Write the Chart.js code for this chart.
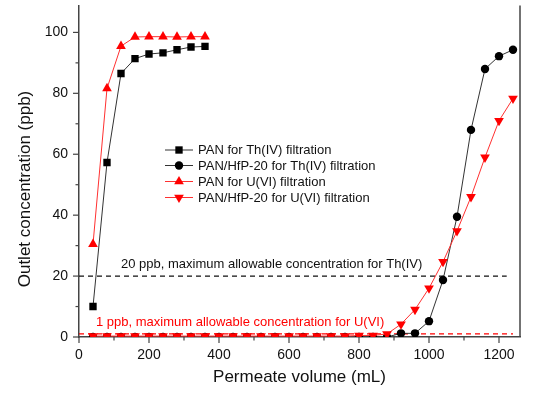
<!DOCTYPE html>
<html>
<head>
<meta charset="utf-8">
<script src="https://cdn.jsdelivr.net/npm/chart.js@4.4.0/dist/chart.umd.min.js"></script>
<style>
    html, body { margin: 0; padding: 0; background: #fff; }
    #wrap { width: 554px; height: 394px; position: relative; }
</style>
</head>
<body>
<div id="wrap"><canvas id="breakthrough"></canvas></div>
<script>
// Volumes (mL) and outlet concentrations (ppb)
const panVolume = [40, 80, 120, 160, 200, 240, 280, 320, 360];
const panTh = [10, 57.3, 86.5, 91.4, 92.9, 93.3, 94.3, 95.2, 95.4];
const panU = [30.5, 81.6, 95.5, 98.5, 98.6, 98.6, 98.5, 98.6, 98.6];

const hfpVolume = [40, 80, 120, 160, 200, 240, 280, 320, 360, 400, 440, 480, 520, 560, 600, 640,
    680, 720, 760, 800, 840, 880, 920, 960, 1000, 1040, 1080, 1120, 1160, 1200, 1240];
const hfpTh = [0, 0, 0, 0, 0, 0, 0, 0, 0, 0, 0, 0, 0, 0, 0, 0,
    0, 0, 0, 0, 0, 0, 1.2, 1.2, 5.2, 18.7, 39.5, 68, 88, 92.2, 94.3];
const hfpU = [0.3, 0.3, 0.3, 0.3, 0.3, 0.3, 0.3, 0.3, 0.3, 0.3, 0.3, 0.3, 0.3, 0.3, 0.3, 0.3,
    0.3, 0.3, 0.3, 0.5, 0.5, 1, 4.2, 9, 16, 24.7, 34.8, 46, 59, 71, 78.3];

// Regulatory limits (ppb) and the volume range their dashed lines span
const thLimit = 20;
const uLimit = 1;
const thLimitRange = [0, 1222];
const uLimitRange = [0, 1240];

const yTicks = [0, 20, 40, 60, 80, 100];
const xTicks = [0, 200, 400, 600, 800, 1000, 1200];

const FONT = "'Liberation Sans', Arial, sans-serif";
const RED = '#ff0000';
const BLACK = '#000000';

const seriesStyles = [
    { label: 'PAN for Th(IV) filtration', color: BLACK, line: '#333333', pointStyle: 'rect', radius: 5.2, rotation: 0 },
    { label: 'PAN/HfP-20 for Th(IV) filtration', color: BLACK, line: '#333333', pointStyle: 'circle', radius: 4.2, rotation: 0 },
    { label: 'PAN for U(VI) filtration', color: RED, line: '#ff3030', pointStyle: 'triangle', radius: 5.6, rotation: 0 },
    { label: 'PAN/HfP-20 for U(VI) filtration', color: RED, line: '#ff3030', pointStyle: 'triangle', radius: 5.6, rotation: 180 }
];

function toPoints(xs, ys) {
    return xs.map((x, i) => ({ x: x, y: ys[i] }));
}

function makeSeries(style, points, order) {
    return {
        label: style.label,
        data: points,
        borderColor: style.line,
        borderWidth: 1,
        backgroundColor: style.color,
        pointBackgroundColor: style.color,
        pointBorderColor: style.color,
        pointBorderWidth: 0,
        pointStyle: style.pointStyle,
        pointRadius: style.radius,
        pointRotation: style.rotation,
        tension: 0,
        order: order
    };
}

function limitLine(range, value, color) {
    return {
        label: '',
        data: [{ x: range[0], y: value }, { x: range[1], y: value }],
        borderColor: color,
        borderWidth: 1.2,
        borderDash: [5, 4],
        pointRadius: 0,
        order: 10
    };
}

// Ticks, right frame, y title, limit labels and the legend box
const decorations = {
    id: 'decorations',
    afterDraw(chart) {
        const ctx = chart.ctx;
        const area = chart.chartArea;
        const xs = chart.scales.x;
        const ys = chart.scales.y;
        ctx.save();

        // right frame line
        ctx.strokeStyle = '#444';
        ctx.lineWidth = 1.5;
        ctx.beginPath();
        ctx.moveTo(area.right, area.top);
        ctx.lineTo(area.right, area.bottom);
        ctx.stroke();

        // outward major / minor ticks
        ctx.lineWidth = 1.2;
        for (let v = 0; v <= 100; v += 10) {
            const py = ys.getPixelForValue(v);
            const len = v % 20 === 0 ? 6 : 3.5;
            ctx.beginPath();
            ctx.moveTo(area.left, py);
            ctx.lineTo(area.left - len, py);
            ctx.stroke();
        }
        for (let v = 0; v <= 1200; v += 100) {
            const px = xs.getPixelForValue(v);
            const len = v % 200 === 0 ? 6 : 3.5;
            ctx.beginPath();
            ctx.moveTo(px, area.bottom);
            ctx.lineTo(px, area.bottom + len);
            ctx.stroke();
        }

        // y axis title (the original frame runs above the crop, so it sits lower)
        ctx.save();
        ctx.translate(25, 189);
        ctx.rotate(-Math.PI / 2);
        ctx.font = '17px ' + FONT;
        ctx.fillStyle = '#111';
        ctx.textAlign = 'center';
        ctx.textBaseline = 'middle';
        ctx.fillText('Outlet concentration (ppb)', 0, 0);
        ctx.restore();

        // limit annotations
        ctx.font = '13px ' + FONT;
        ctx.textBaseline = 'middle';
        ctx.textAlign = 'left';
        ctx.fillStyle = '#111';
        ctx.fillText('20 ppb, maximum allowable concentration for Th(IV)', 121, 264);
        ctx.fillStyle = RED;
        ctx.fillText('1 ppb, maximum allowable concentration for U(VI)', 96, 322);

        // legend
        const rowY = [150, 165.5, 181.5, 197.5];
        ctx.font = '13px ' + FONT;
        seriesStyles.forEach((s, i) => {
            const y = rowY[i];
            ctx.strokeStyle = s.line;
            ctx.lineWidth = 1;
            ctx.beginPath();
            ctx.moveTo(165, y);
            ctx.lineTo(193, y);
            ctx.stroke();
            ctx.fillStyle = s.color;
            Chart.helpers.drawPoint(ctx, {
                pointStyle: s.pointStyle,
                radius: s.radius,
                rotation: s.rotation,
                borderWidth: 0
            }, 179, y);
            ctx.fillStyle = '#111';
            ctx.fillText(s.label, 198, y + 0.5);
        });

        ctx.restore();
    }
};

new Chart(document.getElementById('breakthrough'), {
    type: 'line',
    data: {
        datasets: [
            limitLine(thLimitRange, thLimit, '#111'),
            limitLine(uLimitRange, uLimit, RED),
            makeSeries(seriesStyles[0], toPoints(panVolume, panTh), 3),
            makeSeries(seriesStyles[2], toPoints(panVolume, panU), 4),
            makeSeries(seriesStyles[1], toPoints(hfpVolume, hfpTh), 2),
            makeSeries(seriesStyles[3], toPoints(hfpVolume, hfpU), 1)
        ]
    },
    options: {
        responsive: true,
        maintainAspectRatio: false,
        animation: false,
        layout: { padding: { left: 0, right: 34, top: 0, bottom: 0 } },
        plugins: {
            legend: { display: false },
            tooltip: { enabled: false }
        },
        scales: {
            x: {
                type: 'linear',
                min: 0,
                max: 1260,
                afterFit(scale) {
                    scale.height = 57;
                    scale.paddingLeft = 0;
                    scale.paddingRight = 0;
                },
                afterBuildTicks(scale) { scale.ticks = xTicks.map(v => ({ value: v })); },
                grid: { display: false },
                border: { display: true, color: '#444', width: 1.5 },
                ticks: {
                    padding: 2,
                    color: '#111',
                    font: { family: FONT, size: 14 },
                    callback: v => String(v)
                },
                title: {
                    display: true,
                    text: 'Permeate volume (mL)',
                    color: '#111',
                    font: { family: FONT, size: 17 },
                    padding: { top: 0, bottom: 6 }
                }
            },
            y: {
                type: 'linear',
                min: 0,
                max: 108.8,
                afterFit(scale) {
                    scale.width = 79;
                    scale.paddingTop = 0;
                    scale.paddingBottom = 0;
                },
                afterBuildTicks(scale) { scale.ticks = yTicks.map(v => ({ value: v })); },
                grid: { display: false },
                border: { display: true, color: '#444', width: 1.5 },
                ticks: {
                    padding: 3,
                    color: '#111',
                    font: { family: FONT, size: 14 },
                    callback: v => String(v)
                },
                title: { display: false }
            }
        }
    },
    plugins: [decorations]
});
</script>
</body>
</html>
